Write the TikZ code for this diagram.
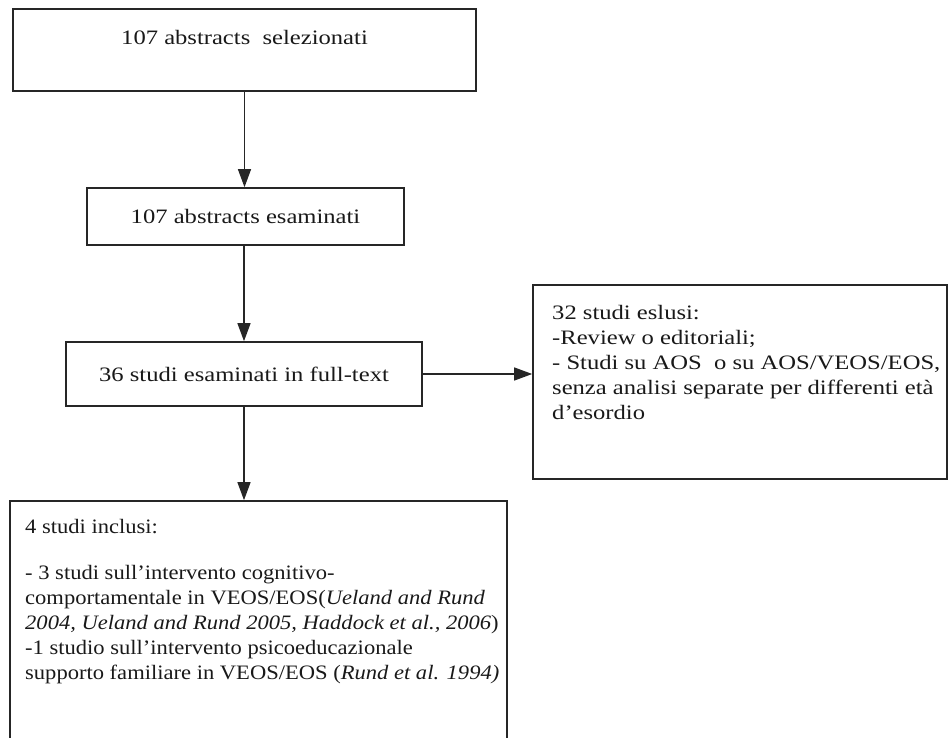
\documentclass[tikz,border=0pt]{standalone}
\usepackage{fontspec}
\setmainfont{Liberation Serif}[FakeStretch=1.2]
\newfontfamily\narrowserif{Liberation Serif}[FakeStretch=1.1]
\usetikzlibrary{arrows.meta}

\begin{document}
\begin{tikzpicture}[x=1pt, y=-1pt, font=\fontsize{20.5}{25}\selectfont]
    % Styles
    \tikzstyle{box} = [rectangle, draw=black!85, line width=1.6pt, inner sep=0pt, text=black!90]
    \tikzstyle{arrow} = [-{Triangle[length=18pt, width=13pt]}, line width=1.2pt, draw=black!85]
    \tikzstyle{txt} = [anchor=north west, align=left, inner sep=0pt, text=black!90]

    \useasboundingbox (0,0) rectangle (948,738);

    % Nodes
    \node[box, minimum width=463pt, minimum height=82pt, align=center] (sel) at (244.5,50) {107 abstracts~ selezionati\\ \mbox{}};
    \node[box, minimum width=317pt, minimum height=57pt] (esa) at (245.5,216.5) {107 abstracts esaminati};
    \node[box, minimum width=356pt, minimum height=64pt] (full) at (244,374) {36 studi esaminati in full-text};
    \node[box, minimum width=414pt, minimum height=194pt] (escl) at (740,382) {};
    \node[txt] (escltxt) at (552,305) {32 studi eslusi:\\-Review o editoriali;\\- Studi su AOS~ o su AOS/VEOS/EOS,\\senza analisi separate per differenti età\\d’esordio};
    \node[box, minimum width=497pt, minimum height=244pt] (inc) at (258.5,623) {};
    \node[txt, font=\fontsize{20.5}{25}\narrowserif] (inctxt) at (25,519) {4 studi inclusi:\\[21pt]- 3 studi sull’intervento cognitivo-\\comportamentale in VEOS/EOS(\textit{Ueland and Rund}\\\textit{2004, Ueland and Rund 2005, Haddock et al., 2006})\\-1 studio sull’intervento psicoeducazionale\\supporto familiare in VEOS/EOS (\textit{Rund et al. 1994)}};

    % Arrows
    \draw[arrow] (sel) -- (sel |- esa.north);
    \draw[arrow] (esa.south -| full) -- (full.north);
    \draw[arrow] (full.east) -- (full.east -| escl.west);
    \draw[arrow] (full.south) -- (full.south |- inc.north);
\end{tikzpicture}
\end{document}
